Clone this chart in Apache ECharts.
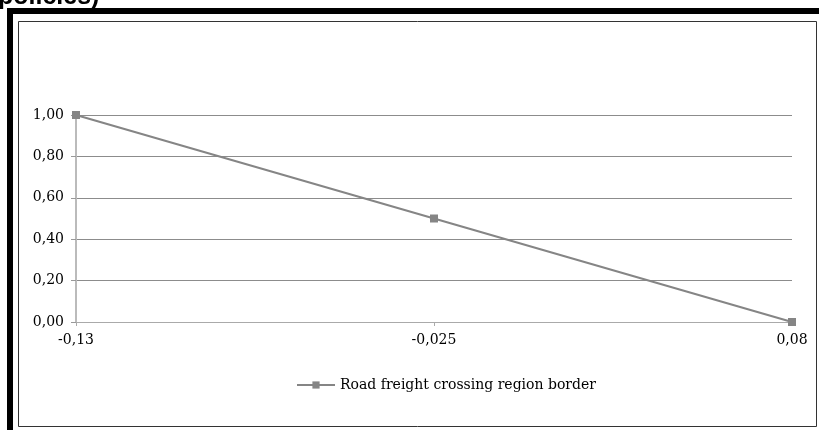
<!DOCTYPE html>
<html>
<head>
<meta charset="utf-8">
<script src="https://cdn.jsdelivr.net/npm/echarts@6/dist/echarts.min.js"></script>
<style>
  html, body { margin: 0; padding: 0; background: #fff; }
  #chart { width: 819px; height: 430px; }
</style>
</head>
<body>
<div id="chart"></div>
<script>
// data
let categories = ["-0,13", "-0,025", "0,08"];
let freightValues = [1.0, 0.5, 0.0];
let seriesName = "Road freight crossing region border";

let chart = echarts.init(document.getElementById("chart"));

let fmt = (v) => v.toFixed(2).replace(".", ",");
let font = "DejaVu Serif";

let option = {
  animation: false,
  graphic: [
    // cropped title at the top
    {
      type: "text",
      style: {
        x: -2,
        y: 10,
        text: "policies)",
        font: "bold 25px Arial",
        fill: "#000",
        verticalAlign: "bottom",
      },
    },
    // thick black frame
    {
      type: "rect",
      shape: { x: 10, y: 11, width: 830, height: 440 },
      style: { fill: "none", stroke: "#000", lineWidth: 6 },
      silent: true,
    },
    // thin inner border
    {
      type: "rect",
      shape: { x: 18.5, y: 21.5, width: 798, height: 405 },
      style: { fill: "none", stroke: "#333", lineWidth: 1 },
      silent: true,
    },
  ],
  grid: {
    left: 76,
    right: 27,
    top: 115,
    bottom: 108,
  },
  legend: {
    left: 291,
    top: 373,
    itemWidth: 38,
    itemHeight: 9,
    itemGap: 4,
    textStyle: { fontFamily: font, fontSize: 14, color: "#000" },
    data: [seriesName],
  },
  xAxis: {
    type: "category",
    data: categories,
    boundaryGap: false,
    axisLine: { show: true, lineStyle: { color: "#aaa" } },
    axisTick: { show: true, length: 4, lineStyle: { color: "#aaa" } },
    axisLabel: { fontFamily: font, fontSize: 14, color: "#000", margin: 11 },
    splitLine: { show: false },
  },
  yAxis: {
    type: "value",
    min: 0,
    max: 1,
    interval: 0.2,
    axisLine: { show: true, lineStyle: { color: "#bbb", width: 2 } },
    axisTick: { show: true, length: 5, lineStyle: { color: "#999" } },
    axisLabel: {
      fontFamily: font,
      fontSize: 14,
      color: "#000",
      margin: 12,
      formatter: fmt,
    },
    splitLine: { show: true, lineStyle: { color: "#8c8c8c" } },
  },
  series: [
    {
      name: seriesName,
      type: "line",
      data: freightValues,
      symbol: "rect",
      symbolSize: 8,
      lineStyle: { color: "#858585", width: 2 },
      itemStyle: { color: "#858585" },
    },
  ],
};
chart.setOption(option);
</script>
</body>
</html>
